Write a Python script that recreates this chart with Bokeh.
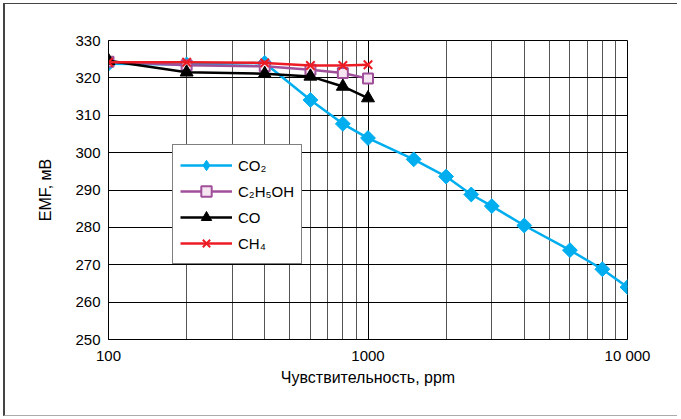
import math
from bokeh.plotting import figure
from bokeh.models import FixedTicker, Range1d, Legend
from bokeh.embed import file_html
from bokeh.resources import INLINE

# ---- data ----
x_co2 = [100, 200, 400, 600, 800, 1000, 1500, 2000, 2500, 3000, 4000, 6000, 8000, 10000]
y_co2 = [323.8, 323.6, 324.0, 314.1, 307.7, 303.9, 298.2, 293.6, 288.8, 285.7, 280.5, 273.9, 268.8, 264.0]

x_other = [100, 200, 400, 600, 800, 1000]
y_c2h5oh = [324.3, 323.4, 323.1, 322.2, 321.3, 319.8]
y_co = [324.6, 321.5, 321.1, 320.4, 317.7, 314.6]
y_ch4 = [324.2, 324.2, 324.0, 323.3, 323.3, 323.5]

labels = ["CO\u2082", "C\u2082H\u2085OH", "CO", "CH\u2084"]

x_tick_values = [100, 1000, 10000]
x_tick_labels = ["100", "1000", "10 000"]
x_minor_values = [200, 300, 400, 500, 600, 700, 800, 900,
                  2000, 3000, 4000, 5000, 6000, 7000, 8000, 9000]
y_tick_values = [250, 260, 270, 280, 290, 300, 310, 320, 330]

x_title = "Чувствительность, ppm"
y_title = "EMF, мВ"

FONT = "Liberation Sans"

p = figure(width=674, height=413, x_axis_type="log",
           x_range=Range1d(100, 10000), y_range=Range1d(250, 330),
           output_backend="svg", toolbar_location=None,
           min_border_left=103, min_border_top=36, min_border_right=52, min_border_bottom=78)
p.styles = {"margin-left": "3px", "margin-top": "3px",
            "border-left": "2px solid #444444", "border-top": "1px solid #444444",
            "border-bottom": "1px solid #aaaaaa"}
p.background_fill_color = "white"
p.border_fill_color = "white"
p.outline_line_color = "black"
p.outline_line_width = 1

xt = FixedTicker(ticks=x_tick_values, minor_ticks=x_minor_values)
p.xaxis.ticker = xt
p.xgrid.ticker = xt
yt = FixedTicker(ticks=y_tick_values, minor_ticks=[])
p.yaxis.ticker = yt
p.ygrid.ticker = yt
p.xaxis.major_label_overrides = dict(zip(x_tick_values, x_tick_labels))

p.xgrid.grid_line_color = "black"
p.xgrid.minor_grid_line_color = "#555555"
p.ygrid.grid_line_color = "black"

for ax in (p.xaxis, p.yaxis):
    ax.major_tick_out = 0
    ax.major_tick_in = 0
    ax.minor_tick_out = 0
    ax.minor_tick_in = 0
    ax.axis_line_color = "black"
    ax.major_label_text_font = FONT
    ax.major_label_text_font_size = "15px"
    ax.major_label_text_color = "black"
    ax.axis_label_text_font = FONT
    ax.axis_label_text_font_size = "16px"
    ax.axis_label_text_font_style = "normal"
    ax.axis_label_text_color = "black"

p.xaxis.axis_label = x_title
p.yaxis.axis_label = y_title
p.xaxis.major_label_standoff = 7
p.xaxis.axis_label_standoff = 2
p.yaxis.major_label_standoff = 8
p.yaxis.axis_label_standoff = 18

c_co2 = "#00aeef"
c_eth = "#a0509a"
c_co = "black"
c_ch4 = "#ed1c24"

r1 = p.line(x_co2, y_co2, line_color=c_co2, line_width=2.5)
# legend-only diamond (hidden beneath the first plotted marker)
r1leg = p.scatter(x_co2[:1], y_co2[:1], marker="diamond", size=12,
                  fill_color=c_co2, line_color=c_co2)
r1m = p.scatter(x_co2, y_co2, marker="square", angle=math.pi / 4, size=10.5,
                fill_color=c_co2, line_color=c_co2)

r2 = p.line(x_other, y_c2h5oh, line_color=c_eth, line_width=2.5)
r2m = p.scatter(x_other, y_c2h5oh, marker="square", size=10, fill_color="#f6e6f2",
                line_color=c_eth, line_width=2)

r3 = p.line(x_other, y_co, line_color=c_co, line_width=2.5)
r3m = p.scatter(x_other, y_co, marker="triangle", size=13, fill_color=c_co, line_color=c_co)

r4 = p.line(x_other, y_ch4, line_color=c_ch4, line_width=2.5)
r4m = p.scatter(x_other, y_ch4, marker="x", size=12, line_color=c_ch4, line_width=2)

legend = Legend(items=[(labels[0], [r1, r1leg]), (labels[1], [r2, r2m]),
                       (labels[2], [r3, r3m]), (labels[3], [r4, r4m])],
                location=(64, 75))
legend.border_line_color = "black"
legend.border_line_width = 1
legend.background_fill_color = "white"
legend.background_fill_alpha = 1
legend.label_text_font = FONT
legend.label_text_font_size = "15px"
legend.label_text_color = "black"
legend.glyph_width = 52
legend.glyph_height = 26
legend.label_height = 20
legend.label_standoff = 6
legend.padding = 7
legend.spacing = 0
legend.margin = 0
p.add_layout(legend, "center")

open("out.html", "w").write(file_html(p, INLINE))
